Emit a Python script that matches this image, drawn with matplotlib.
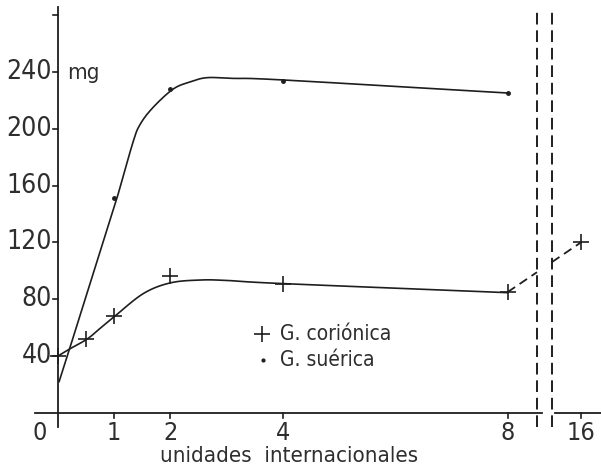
import numpy as np
import matplotlib
matplotlib.use('Agg')
import matplotlib.pyplot as plt

plt.rcParams['font.family'] = ['DejaVu Sans']
plt.rcParams['font.stretch'] = 'condensed'

# G. coriónica (+): measured points
cor_dose = [0, 0.5, 1, 2, 4, 8, 16]
cor_mg = [40, 52, 68, 96, 91, 85, 120]
# hand-drawn curve through them
cor_curve_x = [0, 0.21, 0.52, 0.75, 1.01, 1.52, 2.0, 2.53, 3.0, 4, 8]
cor_curve_y = [40, 45, 52, 59.5, 68, 84, 91.5, 93.5, 93.2, 91, 84.6]

# G. suérica (·): measured points and drawn curve
sue_dose = [1, 2, 4, 8]
sue_mg = [151, 228, 234, 225]
sue_curve_x = [0.02, 0.21, 0.87, 1.05, 1.33, 1.46, 1.69, 2.05, 2.35, 2.65, 3.11, 4, 8]
sue_curve_y = [22, 45.6, 128.7, 151.3, 190, 203, 215, 228, 233, 236, 235.5, 234.4, 225.2]

x_ticks = [0, 1, 2, 4, 8, 16]
y_ticks = [40, 80, 120, 160, 200, 240]

# broken x axis: 16 is drawn just after the break
POS16 = 9.306
BREAK = (8.523, 8.79)


def pos(u):
    u = np.asarray(u, dtype=float)
    return np.where(u <= 8, u, 8 + (u - 8) * (POS16 - 8) / 8)


def smooth(xs, ys, n=12):
    # catmull-rom drawing of a hand-drawn curve through the read points
    p = np.column_stack([xs, ys]).astype(float)
    p = np.vstack([p[0], p, p[-1]])
    out = []
    for i in range(1, len(p) - 2):
        p0, p1, p2, p3 = p[i - 1], p[i], p[i + 1], p[i + 2]
        for t in np.linspace(0, 1, n, endpoint=False):
            out.append(0.5 * ((2 * p1) + (-p0 + p2) * t
                              + (2 * p0 - 5 * p1 + 4 * p2 - p3) * t ** 2
                              + (-p0 + 3 * p1 - 3 * p2 + p3) * t ** 3))
    out.append(p[-2])
    out = np.array(out)
    return out[:, 0], out[:, 1]


ink = '#1e1e1e'
txt = '#2e2e2e'

fig = plt.figure(figsize=(6.01, 4.76), dpi=100)
ax = fig.add_axes([0, 0, 1, 1])
ax.set_xlim(-1.032, 9.662)
ax.set_ylim(-44.5, 290.7)
ax.axis('off')

# axes drawn by hand
ax.plot([0, 0], [-10, 285.8], color=ink, lw=1.3)
ax.plot([-0.41, 8.62], [0, 0], color=ink, lw=1.3)
ax.plot([8.84, 9.66], [0, 0], color=ink, lw=1.3)
for t in y_ticks + [280]:
    ax.plot([-0.09, 0], [t, t], color=ink, lw=1.2)
for t in x_ticks[1:]:
    ax.plot([pos(t), pos(t)], [0, -4], color=ink, lw=1.2)
for b in BREAK:
    ax.plot([b, b], [-10, 286], color=ink, lw=1.4, linestyle=(0, (6, 3)))

# tick labels
for t in y_ticks:
    ax.text(-0.11, t, str(t), ha='right', va='center', fontsize=19, color=txt)
ax.text(0.16, 239, 'mg', ha='left', va='center', fontsize=16, color=txt)
for t in x_ticks:
    xx = -0.32 if t == 0 else pos(t)
    ax.text(xx, -14, str(t), ha='center', va='center', fontsize=18, color=txt)
ax.text(4.11, -30.5, 'unidades  internacionales', ha='center', va='center',
        fontsize=16, color=txt)

# curves
sx, sy = smooth(sue_curve_x, sue_curve_y)
ax.plot(sx, sy, color=ink, lw=1.2)
ax.plot(sue_dose, sue_mg, linestyle='none', marker='o', ms=2.5, color=ink)
cx, cy = smooth(cor_curve_x, cor_curve_y)
ax.plot(cx, cy, color=ink, lw=1.2)
ax.plot(pos(cor_dose), cor_mg, linestyle='none', marker='+', ms=11,
        mew=1.2, color=ink)

# dashed continuation 8 -> 16, interrupted by the break
px = pos([8, 16])
py = [cor_mg[-2], cor_mg[-1]]
yb = np.interp(BREAK, px, py)
ax.plot([px[0], BREAK[0]], [py[0], yb[0]], color=ink, lw=1.3, linestyle=(0, (5, 3)))
ax.plot([BREAK[1], px[1]], [yb[1], py[1]], color=ink, lw=1.3, linestyle=(0, (5, 3)))

# legend
ax.plot([3.63], [55.5], marker='+', ms=11, mew=1.2, color=ink, linestyle='none')
ax.plot([3.65], [37], marker='o', ms=2, color=ink, linestyle='none')
ax.text(3.95, 55.5, 'G. coriónica', ha='left', va='center', fontsize=15, color=txt)
ax.text(3.95, 37, 'G. suérica', ha='left', va='center', fontsize=15, color=txt)

fig.savefig('out.png', dpi=100)
